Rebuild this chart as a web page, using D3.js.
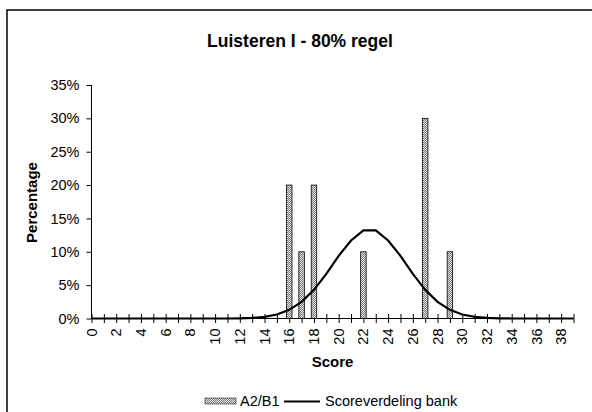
<!DOCTYPE html>
<html>
<head>
<meta charset="utf-8">
<script src="https://cdn.jsdelivr.net/npm/d3@7/dist/d3.min.js"></script>
<style>
  html, body { margin: 0; padding: 0; background: #fff; }
  svg { display: block; font-family: "Liberation Sans", Arial, sans-serif; }
</style>
</head>
<body>
<svg id="chart" width="592" height="412"></svg>
<script>
// ---- data ----
const title = "Luisteren I - 80% regel";
const scores = d3.range(0, 40);
const tickLabels = d3.range(0, 40, 2);
const yTicks = [0, 0.05, 0.10, 0.15, 0.20, 0.25, 0.30, 0.35];
const barScores = [16, 17, 18, 22, 27, 29];
const barValues = [0.20, 0.10, 0.20, 0.10, 0.30, 0.10];
const curveValues = [
  0, 0, 0, 0, 0, 0, 0, 0, 0, 0,
  0, 0, 0.0003, 0.0009, 0.0025, 0.006, 0.013, 0.025, 0.043, 0.067,
  0.094, 0.117, 0.132, 0.132, 0.117, 0.094, 0.067, 0.043, 0.025, 0.013,
  0.006, 0.0025, 0.0009, 0.0003, 0, 0, 0, 0, 0, 0
];
const seriesNames = ["A2/B1", "Scoreverdeling bank"];

// ---- chart ----
const svg = d3.select("#chart");
const FONT = "Liberation Sans, Arial, sans-serif";

const defs = svg.append("defs");
const pat = defs.append("pattern").attr("id", "dots")
  .attr("width", 2).attr("height", 2).attr("patternUnits", "userSpaceOnUse");
pat.append("rect").attr("width", 2).attr("height", 2).attr("fill", "#7a7a7a");
pat.append("rect").attr("width", 1).attr("height", 1).attr("fill", "#e6e6e6");
pat.append("rect").attr("x", 1).attr("y", 1).attr("width", 1).attr("height", 1).attr("fill", "#e6e6e6");

// outer frame
svg.append("rect").attr("x", 7).attr("y", 10).attr("width", 620).attr("height", 430)
  .attr("fill", "none").attr("stroke", "#000").attr("stroke-width", 1.5);

const x = d3.scalePoint().domain(scores).range([91.5, 573.5]);
const y = d3.scaleLinear().domain([0, 0.35]).range([318.5, 85]);

// title
svg.append("text").attr("x", 300).attr("y", 47).attr("text-anchor", "middle")
  .attr("font-size", 17.5).attr("font-weight", "bold").text(title);

// y axis
const yAxis = d3.axisLeft(y).tickValues(yTicks).tickSize(5).tickPadding(7)
  .tickFormat(d => Math.round(d * 100) + "%");
const gy = svg.append("g").attr("transform", "translate(91.5,0)").call(yAxis);
gy.select(".domain").attr("stroke", "#000").attr("d", `M0,${y(0.35)}V${y(0)}`);
gy.selectAll("text").attr("font-size", 14.5).attr("font-family", FONT).attr("fill", "#000");

// x axis
const xAxis = d3.axisBottom(x).tickValues(scores).tickSize(4.5).tickFormat(() => "");
const gx = svg.append("g").attr("transform", `translate(0,${y(0)})`).call(xAxis);
gx.select(".domain").attr("d", `M${x(0)},0H${x(39)}`).attr("stroke", "#000");
gx.selectAll(".tick line").attr("y1", -4.5).attr("stroke", "#000");

// rotated x tick labels
svg.append("g").selectAll("text").data(tickLabels).join("text")
  .attr("transform", d => `translate(${x(d)},${y(0) + 10}) rotate(-90)`)
  .attr("text-anchor", "end").attr("dy", "0.35em")
  .attr("font-size", 14.5).text(d => d);

// bars
const barW = 5.5;
svg.append("g").selectAll("rect").data(barScores).join("rect")
  .attr("x", (d) => x(d) - barW / 2)
  .attr("y", (d, i) => y(barValues[i]))
  .attr("width", barW)
  .attr("height", (d, i) => y(0) - y(barValues[i]))
  .attr("fill", "url(#dots)").attr("stroke", "#000").attr("stroke-width", 0.8);

// curve
const line = d3.line().x((d, i) => x(scores[i])).y(d => y(d));
svg.append("path").datum(curveValues).attr("d", line)
  .attr("fill", "none").attr("stroke", "#000").attr("stroke-width", 2.2);

// axis titles
svg.append("text").attr("x", 332.5).attr("y", 367).attr("text-anchor", "middle")
  .attr("font-size", 15).attr("font-weight", "bold").text("Score");
svg.append("text").attr("transform", "translate(36.5,202.5) rotate(-90)")
  .attr("text-anchor", "middle").attr("font-size", 15).attr("font-weight", "bold").text("Percentage");

// legend
const lg = svg.append("g");
lg.append("rect").attr("x", 205).attr("y", 398).attr("width", 31).attr("height", 6)
  .attr("fill", "url(#dots)").attr("stroke", "#000").attr("stroke-width", 0.5);
lg.append("text").attr("x", 240).attr("y", 406).attr("font-size", 14.5).text(seriesNames[0]);
lg.append("line").attr("x1", 284).attr("x2", 320).attr("y1", 401.5).attr("y2", 401.5)
  .attr("stroke", "#000").attr("stroke-width", 2);
lg.append("text").attr("x", 325).attr("y", 406).attr("font-size", 14.5).text(seriesNames[1]);
</script>
</body>
</html>
